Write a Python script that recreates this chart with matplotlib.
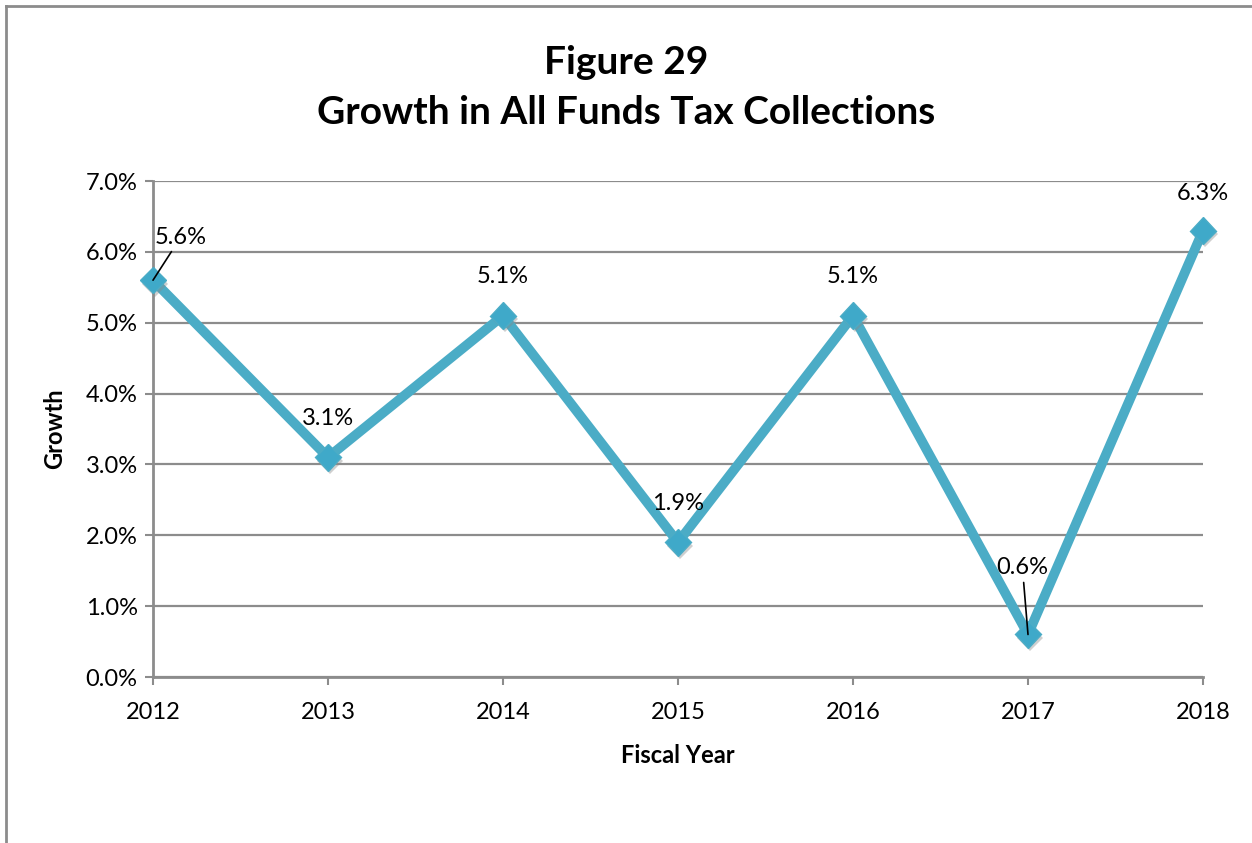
import matplotlib
matplotlib.use("Agg")
import matplotlib.pyplot as plt
import matplotlib.patheffects as pe
from matplotlib.ticker import FuncFormatter, MultipleLocator

years = [2012, 2013, 2014, 2015, 2016, 2017, 2018]
growth = [5.6, 3.1, 5.1, 1.9, 5.1, 0.6, 6.3]
label_offsets = [(20, 31), (0, 28), (0, 28), (0, 28), (0, 28), (-4, 48), (0, 27)]
leader = [True, False, False, False, False, True, False]

plt.rcParams['font.family'] = ['Lato', 'DejaVu Sans']

fig = plt.figure(figsize=(12.52, 8.43), dpi=100)
ax = fig.add_axes([153 / 1252, 1 - 677 / 843, 1050 / 1252, 496 / 843])

# frame line around the chart area (only top/left show)
fig.add_artist(plt.Line2D([6 / 1252, 6 / 1252], [0, 1 - 6 / 843], color='#8c8c8c', lw=2))
fig.add_artist(plt.Line2D([6 / 1252, 1], [1 - 6 / 843, 1 - 6 / 843], color='#8c8c8c', lw=2))

line_color = '#4bacc6'
ax.plot(years, growth, color=line_color, lw=7, solid_capstyle='round',
        solid_joinstyle='round', clip_on=False, zorder=3)
ax.plot(years, growth, ls='none', marker='D', ms=13.5, color='#3fa9c9',
        markeredgecolor='#4bacc6', clip_on=False, zorder=4,
        path_effects=[pe.SimplePatchShadow(offset=(1.5, -2.5), shadow_rgbFace='#888888', alpha=0.4),
                      pe.Normal()])

for x, y, off, ld in zip(years, growth, label_offsets, leader):
    kw = {}
    if ld:
        kw['arrowprops'] = dict(arrowstyle='-', color='black', lw=1.2, shrinkA=1, shrinkB=0)
    ax.annotate(f'{y:.1f}%', xy=(x, y), xytext=off, textcoords='offset points',
                ha='center', va='center', fontsize=17, zorder=5, **kw)

ax.set_xlim(2012, 2018)
ax.set_ylim(0, 7)
ax.set_xticks(years)
ax.yaxis.set_major_locator(MultipleLocator(1))
ax.yaxis.set_major_formatter(FuncFormatter(lambda v, p: f'{v:.1f}%'))
ax.grid(axis='y', color='#8c8c8c', lw=1.6)
ax.set_axisbelow(True)
for s in ['top', 'right']:
    ax.spines[s].set_visible(False)
for s in ['left', 'bottom']:
    ax.spines[s].set_color('#8c8c8c')
    ax.spines[s].set_linewidth(2)
ax.tick_params(axis='both', colors='#8c8c8c', labelcolor='black', labelsize=17,
               length=6, width=1.5)
ax.tick_params(axis='x', pad=12)
ax.tick_params(axis='y', pad=5)

ax.set_xlabel('Fiscal Year', fontsize=17, fontweight='bold', labelpad=15)
ax.set_ylabel('Growth', fontsize=17, fontweight='bold', labelpad=14)

fig.text(0.5, 1 - 62 / 843, 'Figure 29', ha='center', va='center',
         fontsize=28, fontweight='bold')
fig.text(0.5, 1 - 112 / 843, 'Growth in All Funds Tax Collections', ha='center',
         va='center', fontsize=28, fontweight='bold')

fig.savefig('out.png', dpi=100, facecolor='white')
